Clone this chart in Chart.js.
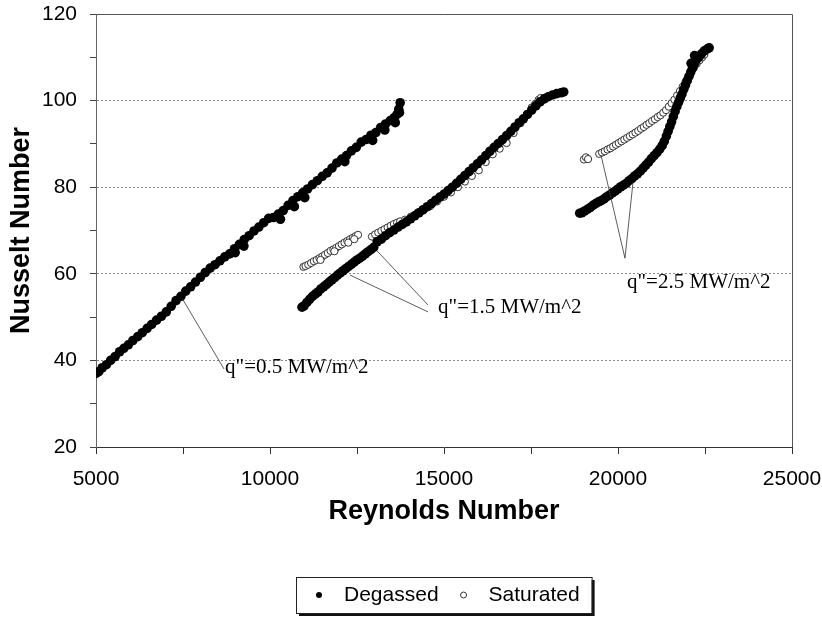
<!DOCTYPE html>
<html>
<head>
<meta charset="utf-8">
<script src="https://cdn.jsdelivr.net/npm/chart.js@4.4.0/dist/chart.umd.min.js"></script>
<style>
  html, body { margin: 0; padding: 0; background: #fff; }
  #wrap { width: 822px; height: 618px; }
</style>
</head>
<body>
<div id="wrap"><canvas id="chartCanvas" width="822" height="618"></canvas></div>
<script>
// q" = 0.5 MW/m^2, degassed
const re05 = [5000, 5080, 5180, 5300, 5420, 5550, 5680, 5800, 5930, 6060, 6200, 6330, 6470, 6600, 6740, 6880,
  7020, 7160, 7300, 7440, 7580, 7720, 7860, 8000, 8140, 8280, 8420, 8560, 8700, 8840, 8980, 9120, 9260, 9400,
  9540, 9680, 9820, 9960, 10100, 10240, 10380, 10520, 10660, 10800, 10940, 11080, 11220, 11360, 11500, 11640,
  11780, 11920, 12060, 12200, 12340, 12480, 12620, 12760, 12900, 13040, 13180, 13320, 13460, 13560, 13650,
  13700, 13740, 9250, 10300, 11000, 12150, 12950, 13300, 13600, 13720, 9000, 10700];
const nu05 = [37.0, 37.4, 38.3, 39.0, 40.0, 40.9, 42.0, 42.8, 43.6, 44.6, 45.5, 46.4, 47.4, 48.3, 49.3, 50.2,
  51.2, 52.5, 53.8, 54.8, 56.0, 57.0, 58.1, 59.2, 60.3, 61.3, 62.1, 63.0, 63.9, 64.6, 65.8, 66.8, 67.9, 68.8,
  69.9, 70.8, 71.8, 72.8, 73.0, 73.8, 74.6, 75.8, 76.9, 77.8, 78.7, 79.6, 80.6, 81.5, 82.5, 83.3,
  84.4, 85.6, 86.5, 87.3, 88.4, 89.2, 90.4, 91.0, 92.0, 92.6, 93.8, 94.6, 95.4, 96.0, 96.8,
  98.0, 99.5, 66.4, 72.6, 77.6, 85.9, 90.8, 93.2, 94.9, 97.2, 64.9, 75.5];

// q" = 1.5 MW/m^2, degassed
const re15 = [10920, 10980, 11060, 11140, 11220, 11300, 11380, 11460, 11540, 11620, 11700, 11780, 11860, 11940,
  12020, 12100, 12180, 12260, 12340, 12420, 12500, 12580, 12660, 12740, 12820, 12900, 12980, 13080, 13200, 13320,
  13440, 13560, 13680, 13800, 13920, 14040, 14160, 14280, 14400, 14520, 14640, 14760, 14880, 15000, 15120, 15240,
  15360, 15480, 15600, 15720, 15840, 15960, 16080, 16200, 16320, 16440, 16560, 16680, 16800, 16920, 17040, 17160,
  17280, 17400, 17520, 17640, 17760, 17880, 18000, 18120, 18240, 18360, 18440];
const nu15 = [52.3, 52.6, 53.4, 54.1, 54.8, 55.3, 55.8, 56.5, 57.0, 57.5, 58.1, 58.6, 59.1, 59.7,
  60.2, 60.7, 61.2, 61.7, 62.2, 62.7, 63.2, 63.6, 64.1, 64.6, 65.1, 65.6, 66.1, 67.4, 68.0, 68.8,
  69.5, 70.1, 70.8, 71.4, 72.0, 72.7, 73.4, 74.1, 74.8, 75.5, 76.2, 77.0, 77.7, 78.4, 79.2, 80.0,
  80.9, 81.8, 82.7, 83.6, 84.5, 85.4, 86.3, 87.3, 88.3, 89.2, 90.1, 91.0, 91.9, 92.9, 93.9, 94.9,
  95.8, 96.8, 97.8, 98.8, 99.7, 100.4, 100.9, 101.3, 101.6, 101.8, 102.0];

// q" = 2.5 MW/m^2, degassed
const re25 = [18900, 18960, 19040, 19120, 19200, 19280, 19360, 19440, 19520, 19600, 19680, 19760, 19840, 19920,
  20000, 20080, 20160, 20240, 20320, 20400, 20480, 20560, 20640, 20720, 20800, 20880, 20960, 21040, 21120, 21200,
  21270, 21330, 21390, 21440, 21490, 21540, 21590, 21640, 21690, 21740, 21790, 21840, 21890, 21940, 21990, 22040,
  22090, 22140, 22190, 22250, 22320, 22400, 22480, 22560, 22620, 22100, 22200];
const nu25 = [74.0, 74.1, 74.5, 74.9, 75.3, 75.8, 76.2, 76.6, 76.9, 77.3, 77.8, 78.2, 78.7, 79.1,
  79.6, 80.1, 80.5, 80.9, 81.5, 82.0, 82.6, 83.1, 83.7, 84.4, 85.1, 85.8, 86.6, 87.3, 88.0, 88.8,
  89.6, 90.6, 91.8, 92.9, 94.0, 95.1, 96.3, 97.5, 98.6, 99.6, 100.6, 101.5, 102.6, 103.6, 104.6, 105.6,
  106.6, 107.5, 108.4, 109.4, 110.0, 110.8, 111.5, 111.9, 112.2, 108.6, 110.4];

// saturated runs
const reSat15 = [10960, 11020, 11100, 11180, 11260, 11340, 11420, 11500, 11580, 11660, 11740, 11820, 11900, 11980,
  12060, 12140, 12220, 12300, 12380, 12460, 12530, 11450, 11850, 12250, 12420,
  12930, 13020, 13110, 13200, 13290, 13380, 13470, 13560, 13650, 13740, 13880, 14050, 14220, 14400, 14600, 14800,
  15000, 15200, 15400, 15600, 15800, 16000, 16200, 16400, 16600, 16800, 17000, 17200, 17380, 17520, 17620, 17720, 17780];
const nuSat15 = [61.6, 61.8, 62.1, 62.5, 62.9, 63.2, 63.6, 64.0, 64.4, 64.8, 65.3, 65.6, 66.0, 66.4,
  66.8, 67.2, 67.6, 68.0, 68.3, 68.7, 69.0, 63.2, 65.2, 67.2, 68.0,
  68.6, 69.1, 69.5, 69.9, 70.3, 70.7, 71.1, 71.5, 71.8, 72.1, 72.5, 73.2, 73.9, 74.6, 75.6, 76.7,
  77.8, 78.8, 80.0, 81.3, 82.6, 83.9, 85.8, 87.6, 88.9, 90.2, 92.5, 94.8, 96.8, 98.4, 99.2, 100.2, 100.6];

const reSat25 = [19020, 19080, 19140, 19460, 19540, 19620, 19700, 19780, 19860, 19940, 20020, 20100, 20180, 20260,
  20340, 20420, 20500, 20580, 20660, 20740, 20820, 20900, 20980, 21060, 21140, 21220, 21300, 21380, 21460, 21540,
  21620, 21700, 21780, 21860, 21940, 22020, 22100, 22180, 22260, 22340, 22420, 22480];
const nuSat25 = [86.4, 86.9, 86.5, 87.7, 88.0, 88.3, 88.7, 89.0, 89.4, 89.8, 90.2, 90.6, 91.0, 91.4,
  91.8, 92.2, 92.6, 93.0, 93.5, 93.9, 94.4, 94.8, 95.3, 95.7, 96.2, 96.6, 97.2, 97.8, 98.6, 99.4,
  100.2, 101.2, 102.2, 103.2, 104.3, 105.5, 106.6, 107.6, 108.5, 109.3, 110.0, 110.6];

// callouts: [Re, Nu] of the point each leader starts from, the apex, and where the text sits
const callouts = [
  { text: 'q"=0.5 MW/m^2', at: [8710, 37.1], lines: [[[7470, 54.4], [8680, 38.0]]] },
  { text: 'q"=1.5 MW/m^2', at: [14830, 50.9], lines: [[[12300, 59.7], [14540, 51.2]], [[13075, 65.3], [14540, 52.8]]] },
  { text: 'q"=2.5 MW/m^2', at: [20260, 56.7], lines: [[[19512, 87.4], [20200, 63.6]], [[20432, 81.2], [20200, 63.6]]] }
];

const sansFont = '"Liberation Sans", Arial, sans-serif';

function toPoints(xs, ys) {
  return xs.map((x, i) => ({ x: x, y: ys[i] }));
}

const calloutPlugin = {
  id: 'callouts',
  afterDatasetsDraw(chart) {
    const ctx = chart.ctx;
    const xs = chart.scales.x, ys = chart.scales.y;
    ctx.save();
    ctx.strokeStyle = '#333';
    ctx.lineWidth = 0.8;
    callouts.forEach(c => {
      c.lines.forEach(l => {
        ctx.beginPath();
        ctx.moveTo(xs.getPixelForValue(l[0][0]), ys.getPixelForValue(l[0][1]));
        ctx.lineTo(xs.getPixelForValue(l[1][0]), ys.getPixelForValue(l[1][1]));
        ctx.stroke();
      });
      ctx.fillStyle = '#000';
      ctx.font = '21px "Liberation Serif", "Times New Roman", serif';
      ctx.textBaseline = 'alphabetic';
      ctx.fillText(c.text, xs.getPixelForValue(c.at[0]), ys.getPixelForValue(c.at[1]));
    });
    ctx.restore();
  }
};

const framePlugin = {
  id: 'frame',
  beforeDatasetsDraw(chart) {
    const a = chart.chartArea;
    const ctx = chart.ctx;
    ctx.save();
    ctx.strokeStyle = '#555';
    ctx.lineWidth = 1;
    ctx.beginPath();
    ctx.moveTo(a.left, a.top + 0.5);
    ctx.lineTo(a.right + 0.5, a.top + 0.5);
    ctx.lineTo(a.right + 0.5, a.bottom);
    ctx.stroke();
    ctx.restore();
  }
};

const boxLegend = {
  id: 'boxLegend',
  afterDraw(chart) {
    const ctx = chart.ctx;
    const a = chart.chartArea;
    ctx.save();
    ctx.font = '21px ' + sansFont;
    const items = chart.data.datasets.map(ds => ({ ds: ds, w: ctx.measureText(ds.label).width }));
    let width = 23 + 12 + 25 * (items.length - 1);
    items.forEach(it => { width += 25 + it.w; });
    const h = 36;
    const left = Math.round((a.left + a.right) / 2 - width / 2);
    const cy = chart.height - 23;
    const top = cy - h / 2;
    ctx.fillStyle = '#111';
    ctx.fillRect(left + 3, top + 3, width, h);
    ctx.fillStyle = '#fff';
    ctx.fillRect(left, top, width, h);
    ctx.strokeStyle = '#222';
    ctx.lineWidth = 1;
    ctx.strokeRect(left + 0.5, top + 0.5, width, h);
    let x = left + 23;
    items.forEach(it => {
      ctx.beginPath();
      ctx.arc(x, cy, 3, 0, Math.PI * 2);
      if (it.ds.label === 'Degassed') {
        ctx.fillStyle = '#000';
        ctx.fill();
      } else {
        ctx.strokeStyle = '#333';
        ctx.stroke();
      }
      ctx.fillStyle = '#000';
      ctx.textBaseline = 'middle';
      ctx.fillText(it.ds.label, x + 25, cy);
      x += 25 + it.w + 25;
    });
    ctx.restore();
  }
};

const ctx = document.getElementById('chartCanvas').getContext('2d');

// tick marks are drawn 6px long; the rest of tickLength is just label spacing
// (ticks.padding would also widen the chart's side padding)
const chart = new Chart(ctx, {
  type: 'scatter',
  data: {
    datasets: [{
      label: 'Degassed',
      data: toPoints(re05, nu05).concat(toPoints(re15, nu15), toPoints(re25, nu25)),
      pointRadius: 4.8,
      pointBackgroundColor: '#000',
      pointBorderColor: '#000',
      pointBorderWidth: 0
    }, {
      label: 'Saturated',
      data: toPoints(reSat15, nuSat15).concat(toPoints(reSat25, nuSat25)),
      pointRadius: 3.6,
      pointBackgroundColor: '#fff',
      pointBorderColor: '#333',
      pointBorderWidth: 1
    }]
  },
  options: {
    responsive: false,
    animation: false,
    devicePixelRatio: 1,
    layout: { padding: { top: 14, right: 30, bottom: 90, left: 0 } },
    plugins: {
      legend: { display: false },
      tooltip: { enabled: false }
    },
    scales: {
      x: {
        type: 'linear',
        min: 5000,
        max: 25000,
        afterFit: s => { s.height = 81; },
        ticks: {
          stepSize: 2500,
          autoSkip: false,
          maxRotation: 0,
          padding: 0,
          color: '#000',
          font: { family: sansFont, size: 21 },
          callback: v => (v % 5000 === 0 ? v : '')
        },
        grid: { drawOnChartArea: false, tickLength: 20, tickColor: '#333', tickBorderDash: [6, 60] },
        border: { color: '#333', width: 1 },
        title: {
          display: true,
          text: 'Reynolds Number',
          color: '#000',
          padding: 0,
          font: { family: sansFont, size: 27, weight: 'bold' }
        }
      },
      y: {
        min: 20,
        max: 120,
        afterFit: s => { s.width = 96; },
        ticks: {
          stepSize: 10,
          padding: 0,
          color: '#000',
          font: { family: sansFont, size: 21 },
          callback: v => (v % 20 === 0 ? v : '')
        },
        grid: {
          color: c => (c.tick && c.tick.value % 20 === 0 ? '#8a8a8a' : 'rgba(0,0,0,0)'),
          lineWidth: 1,
          tickLength: 19,
          tickColor: '#444',
          tickBorderDash: [6, 60],
          tickBorderDashOffset: 53
        },
        border: { color: '#666', width: 1, dash: [2, 2] },
        title: {
          display: true,
          text: 'Nusselt Number',
          color: '#000',
          padding: { top: 5, bottom: 0 },
          font: { family: sansFont, size: 27, weight: 'bold' }
        }
      }
    }
  },
  plugins: [framePlugin, calloutPlugin, boxLegend]
});
</script>
</body>
</html>
